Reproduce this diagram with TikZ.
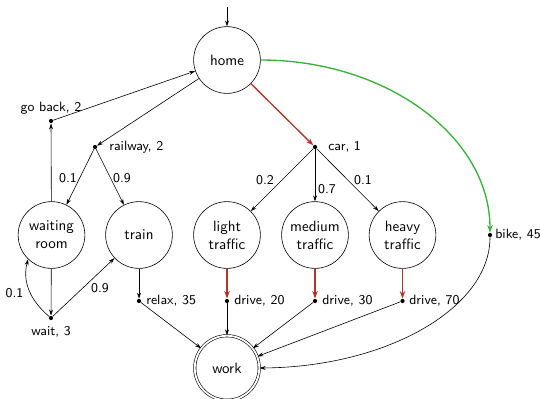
\documentclass[tikz,border=0pt]{standalone}
\usetikzlibrary{arrows.meta}
\definecolor{myred}{RGB}{178,52,42}
\definecolor{mygreen}{RGB}{58,178,58}
\begin{document}
\begin{tikzpicture}[x=0.6667pt,y=-0.6667pt,font=\sffamily,
  state/.style={circle,draw,minimum size=44.5pt,inner sep=0pt,align=center},
  dot/.style={circle,fill,inner sep=0pt,minimum size=2.8pt},
  lbl/.style={font=\sffamily\small,inner sep=0pt},
  prob/.style={font=\sffamily\small,inner sep=0pt},
  arr/.style={-{Stealth[length=4pt,width=2.6pt]}},
  redarr/.style={line width=0.9pt,draw=myred,-{Stealth[length=5pt,width=3.6pt]}},
  greenarr/.style={line width=0.9pt,draw=mygreen,-{Stealth[length=5pt,width=3.6pt]}}]
\useasboundingbox (0,0) rectangle (540,398);
% states
\node[state] (home) at (227,60) {home};
\coordinate (start) at (227,7);
\node[state] (wr) at (51.5,235) {waiting\\room};
\node[state] (train) at (139,235) {train};
\node[state] (light) at (227,235) {light\\traffic};
\node[state] (med) at (315,235) {medium\\traffic};
\node[state] (heavy) at (402.5,235) {heavy\\traffic};
\node[state,double,double distance=1.2pt,minimum size=43pt] (work) at (227,368) {work};
% action dots
\node[dot] (goback) at (51,121) {};
\node[lbl] (gobackl) at (51,108) {go back, 2};
\node[dot] (rail) at (95,147) {};
\node[lbl,anchor=west] (raill) at (109,147) {railway, 2};
\node[dot] (car) at (315,147) {};
\node[lbl,anchor=west] (carl) at (328,147) {car, 1};
\node[dot] (bike) at (490,235) {};
\node[lbl,anchor=west] (bikel) at (495,235) {bike, 45};
\node[dot] (wait) at (51,318) {};
\node[lbl] (waitl) at (51,332) {wait, 3};
\node[dot] (relax) at (139,301) {};
\node[lbl,anchor=west] (relaxl) at (146,301) {relax, 35};
\node[dot] (d20) at (227,301) {};
\node[lbl,anchor=west] (d20l) at (234,301) {drive, 20};
\node[dot] (d30) at (315,301) {};
\node[lbl,anchor=west] (d30l) at (322,301) {drive, 30};
\node[dot] (d70) at (402.5,301) {};
\node[lbl,anchor=west] (d70l) at (409,301) {drive, 70};
% probabilities
\node[prob] (p1) at (68,178) {0.1};
\node[prob] (p2) at (122,178) {0.9};
\node[prob] (p3) at (265,180) {0.2};
\node[prob] (p4) at (327,189) {0.7};
\node[prob] (p5) at (363,180) {0.1};
\node[prob] (p6) at (14.5,293) {0.1};
\node[prob] (p7) at (100,288) {0.9};
% connectors
\draw[arr] (start) -- (home);
\draw[arr] (goback) -- (home);
\draw[arr] (home) -- (rail);
\draw[arr] (rail) -- (wr);
\draw[arr] (rail) -- (train);
\draw[arr] (wr) -- (goback);
\draw[arr] (wr) -- (wait);
\draw[arr] (wait) to[out=140,in=255] (wr.226);
\draw[arr] (wait) -- (train);
\draw[arr] (train) -- (relax);
\draw[arr] (relax) -- (work);
\draw[redarr] (home) -- (car);
\draw[arr] (car) -- (light);
\draw[arr] (car) -- (med);
\draw[arr] (car) -- (heavy);
\draw[redarr] (light) -- (d20);
\draw[redarr] (med) -- (d30);
\draw[redarr] (heavy) -- (d70);
\draw[arr] (d20) -- (work);
\draw[arr] (d30) -- (work);
\draw[arr] (d70) -- (work);
\draw[greenarr] (home.east) .. controls (387,60) and (490,137) .. (bike);
\draw[arr] (bike) .. controls (490,308) and (387,367) .. (work.east);
\end{tikzpicture}
\end{document}
